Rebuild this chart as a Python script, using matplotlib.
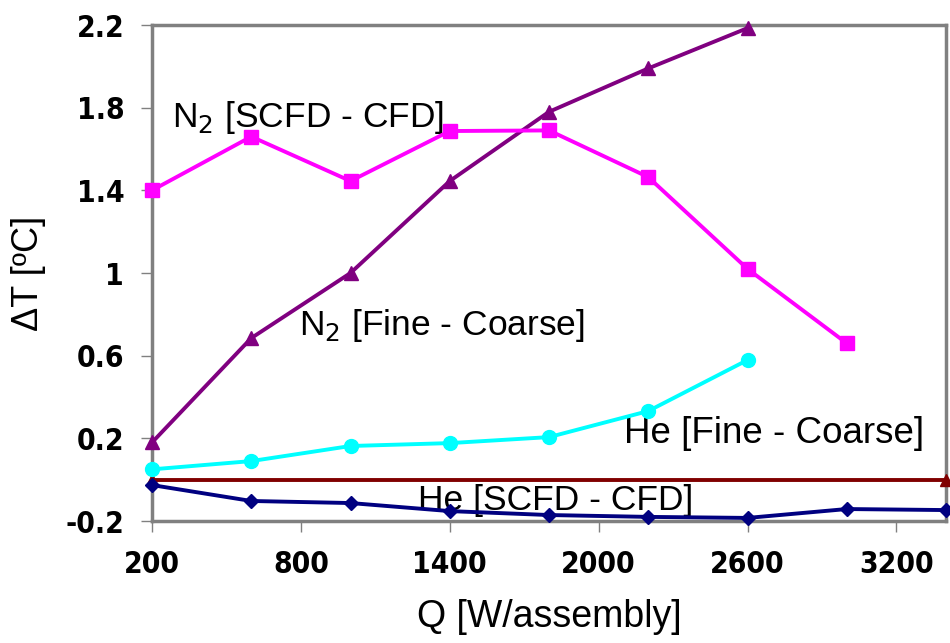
import matplotlib
matplotlib.use("Agg")
import matplotlib.pyplot as plt
from matplotlib import font_manager as fm

q = [200, 600, 1000, 1400, 1800, 2200, 2600, 3000, 3400]
n2_scfd_cfd = [1.40, 1.66, 1.445, 1.687, 1.69, 1.464, 1.02, 0.66]
n2_fine_coarse = [0.18, 0.685, 1.0, 1.445, 1.78, 1.99, 2.185]
he_fine_coarse = [0.05, 0.09, 0.163, 0.177, 0.206, 0.332, 0.579]
he_scfd_cfd = [-0.026, -0.103, -0.113, -0.152, -0.171, -0.18, -0.185, -0.142, -0.147]
zero_x = [200, 3400]
zero_y = [0.0, 0.0]

xticks = [200, 800, 1400, 2000, 2600, 3200]
yticks = [-0.2, 0.2, 0.6, 1.0, 1.4, 1.8, 2.2]
ytick_labels = ["-0.2", "0.2", "0.6", "1", "1.4", "1.8", "2.2"]

plt.rcParams['font.family'] = ['Liberation Sans', 'DejaVu Sans']

# find a condensed bold font if available
cond = None
for f in fm.fontManager.ttflist:
    if ('Narrow' in f.name or 'Condensed' in f.fname) and f.weight in (700, 'bold'):
        cond = f.fname
        break

fig = plt.figure(figsize=(9.5, 6.43), dpi=100)
ax = fig.add_axes([0.16, 0.1897, 0.8358, 0.7714])

ax.plot(zero_x, zero_y, color='#800000', lw=2.8, marker='^', ms=9, clip_on=False, zorder=3)
ax.plot(q[:len(he_scfd_cfd)], he_scfd_cfd, color='#000080', lw=2.8, marker='D', ms=7, clip_on=False, zorder=4)
ax.plot(q[:len(he_fine_coarse)], he_fine_coarse, color='#00FFFF', lw=2.8, marker='o', ms=10, clip_on=False, zorder=4)
ax.plot(q[:len(n2_fine_coarse)], n2_fine_coarse, color='#800080', lw=2.8, marker='^', ms=10, clip_on=False, zorder=4)
ax.plot(q[:len(n2_scfd_cfd)], n2_scfd_cfd, color='#FF00FF', lw=2.8, marker='s', ms=10, clip_on=False, zorder=4)

ax.set_xlim(200, 3400)
ax.set_ylim(-0.2, 2.2)
ax.set_xticks(xticks)
ax.set_yticks(yticks)
ax.set_xticklabels([str(t) for t in xticks])
ax.set_yticklabels(ytick_labels)

if cond:
    tfp = fm.FontProperties(fname=cond, size=21.5)
else:
    tfp = fm.FontProperties(family=['Liberation Sans'], weight='bold', size=19)
for lab in ax.get_xticklabels() + ax.get_yticklabels():
    lab.set_fontproperties(tfp)

ax.tick_params(axis='both', direction='out', length=8, width=1, color='#808080')
ax.tick_params(axis='x', pad=13)
ax.tick_params(axis='y', pad=12)
for s in ax.spines.values():
    s.set_color('#808080')
    s.set_linewidth(2.5)

ax.set_xlabel('Q [W/assembly]', fontsize=27, labelpad=14)
ax.set_ylabel('ΔT [ºC]', fontsize=26, labelpad=14)

ax.text(0.025, 0.8145, 'N$_2$ [SCFD - CFD]', transform=ax.transAxes, fontsize=25.5, va='center', ha='left')
ax.text(0.185, 0.395, 'N$_2$ [Fine - Coarse]', transform=ax.transAxes, fontsize=25.5, va='center', ha='left')
ax.text(0.595, 0.176, 'He [Fine - Coarse]', transform=ax.transAxes, fontsize=26.5, va='center', ha='left')
ax.text(0.335, 0.042, 'He [SCFD - CFD]', transform=ax.transAxes, fontsize=25.5, va='center', ha='left')

fig.savefig('out.png', dpi=100)
